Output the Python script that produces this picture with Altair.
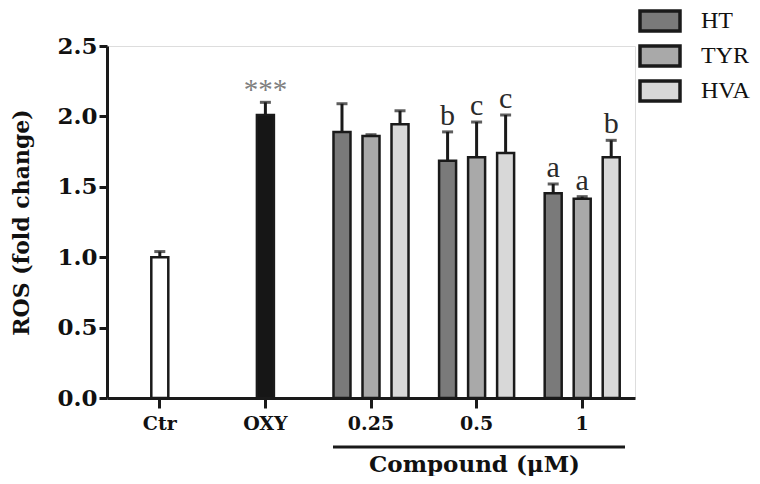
import altair as alt
import pandas as pd

categories = ["Ctr", "OXY", "0.25", "0.5", "1"]
doses = ["0.25", "0.5", "1"]
compounds = ["HT", "TYR", "HVA"]
slots = ["L", "M", "R"]

ctr_mean, ctr_sd = 1.00, 0.04
oxy_mean, oxy_sd = 2.01, 0.09
oxy_sig = "***"

ht_mean = [1.89, 1.685, 1.455]
ht_sd = [0.20, 0.205, 0.065]
tyr_mean = [1.86, 1.71, 1.415]
tyr_sd = [0.01, 0.25, 0.015]
hva_mean = [1.945, 1.74, 1.71]
hva_sd = [0.095, 0.27, 0.12]
ht_sig = ["", "b", "a"]
tyr_sig = ["", "c", "a"]
hva_sig = ["", "c", "b"]

group_names = ["Ctr", "OXY", "HT", "TYR", "HVA"]
group_colors = ["#ffffff", "#161616", "#7a7a7a", "#a9a9a9", "#d8d8d8"]

rows = [
    dict(cat="Ctr", slot="M", group="Ctr", mean=ctr_mean, sd=ctr_sd, sig=""),
    dict(cat="OXY", slot="M", group="OXY", mean=oxy_mean, sd=oxy_sd, sig=oxy_sig),
]
for comp, slot, means, sds, sigs in [
    ("HT", "L", ht_mean, ht_sd, ht_sig),
    ("TYR", "M", tyr_mean, tyr_sd, tyr_sig),
    ("HVA", "R", hva_mean, hva_sd, hva_sig),
]:
    for d, m, s, g in zip(doses, means, sds, sigs):
        rows.append(dict(cat=d, slot=slot, group=comp, mean=m, sd=s, sig=g))

df = pd.DataFrame(rows)
df["top"] = df["mean"] + df["sd"]

FONT = "Liberation Serif"
BOLD = "DejaVu Serif"

x_enc = alt.X(
    "cat:N",
    sort=categories,
    scale=alt.Scale(domain=categories, paddingInner=0, paddingOuter=0),
    axis=alt.Axis(
        title="Compound (μM)",
        labelAngle=0,
        labelFont=BOLD,
        labelFontSize=19,
        labelFontWeight="bold",
        labelColor="#111111",
        labelPadding=6,
        tickSize=10,
        tickWidth=3,
        tickColor="#1a1a1a",
        domainWidth=3,
        domainColor="#1a1a1a",
        titleFont=BOLD,
        titleFontSize=23,
        titleFontWeight="bold",
        titleColor="#111111",
        titleX=367,
        titleY=73,
        titleBaseline="alphabetic",
        titleAlign="center",
    ),
)
xo_enc = alt.XOffset(
    "slot:N",
    scale=alt.Scale(domain=slots, paddingInner=0.414, paddingOuter=0.527),
)
y_scale = alt.Scale(domain=[0, 2.5], nice=False, zero=True)

base = alt.Chart(df)

bars = base.mark_bar(stroke="#1a1a1a", strokeWidth=2.5).encode(
    x=x_enc,
    xOffset=xo_enc,
    y=alt.Y(
        "mean:Q",
        scale=y_scale,
        axis=alt.Axis(
            title="ROS (fold change)",
            values=[0, 0.5, 1.0, 1.5, 2.0, 2.5],
            format=".1f",
            grid=False,
            labelFont=BOLD,
            labelFontSize=23,
            labelFontWeight="bold",
            labelColor="#111111",
            labelPadding=2,
            tickSize=8,
            tickWidth=3,
            tickColor="#1a1a1a",
            domainWidth=3,
            domainColor="#1a1a1a",
            titleFont=BOLD,
            titleFontSize=22,
            titleFontWeight="bold",
            titleColor="#111111",
            titleX=-86,
            titleY=176,
            titleAngle=270,
            titleAlign="center",
            titleBaseline="middle",
        ),
    ),
    color=alt.Color(
        "group:N",
        scale=alt.Scale(domain=group_names, range=group_colors),
        legend=alt.Legend(
            title=None,
            values=compounds,
            orient="none",
            legendX=541,
            legendY=-37,
            symbolType="M-2,-1H2V1H-2Z",
            symbolSize=400,
            symbolStrokeColor="#1a1a1a",
            symbolStrokeWidth=3.5,
            symbolOpacity=1,
            labelFont=FONT,
            labelFontSize=24,
            labelColor="#111111",
            labelOffset=29,
            rowPadding=1,
            padding=0,
        ),
    ),
)

err_rule = base.mark_rule(color="#1a1a1a", strokeWidth=3).encode(
    x=x_enc, xOffset=xo_enc, y=alt.Y("mean:Q", scale=y_scale), y2="top:Q"
)
err_cap = base.mark_tick(color="#1a1a1a", thickness=3, size=11).encode(
    x=x_enc, xOffset=xo_enc, y=alt.Y("top:Q", scale=y_scale)
)

letters = base.transform_filter(alt.datum.group != "OXY").mark_text(
    font=FONT, fontSize=30, color="#2a2a2a", baseline="alphabetic", dy=-7
).encode(x=x_enc, xOffset=xo_enc, y=alt.Y("top:Q", scale=y_scale), text="sig:N")

stars = base.transform_filter(alt.datum.group == "OXY").mark_text(
    font=FONT, fontSize=29, color="#808080", baseline="alphabetic", dy=-3
).encode(x=x_enc, xOffset=xo_enc, y=alt.Y("top:Q", scale=y_scale), text="sig:N")

compound_line = alt.Chart(pd.DataFrame({"k": [0]})).mark_rule(
    color="#1a1a1a", strokeWidth=3
).encode(x=alt.value(226), x2=alt.value(518), y=alt.value(401))

chart = (
    alt.layer(bars, err_rule, err_cap, letters, stars, compound_line)
    .properties(
        width=528,
        height=352,
        padding={"left": 99, "top": 38, "right": 117, "bottom": 78},
        autosize=alt.AutoSizeParams(type="none"),
    )
    .configure_view(stroke=None)
    .configure(font=FONT)
)

chart.save("out.html", embed_options={"renderer": "svg", "actions": False})
